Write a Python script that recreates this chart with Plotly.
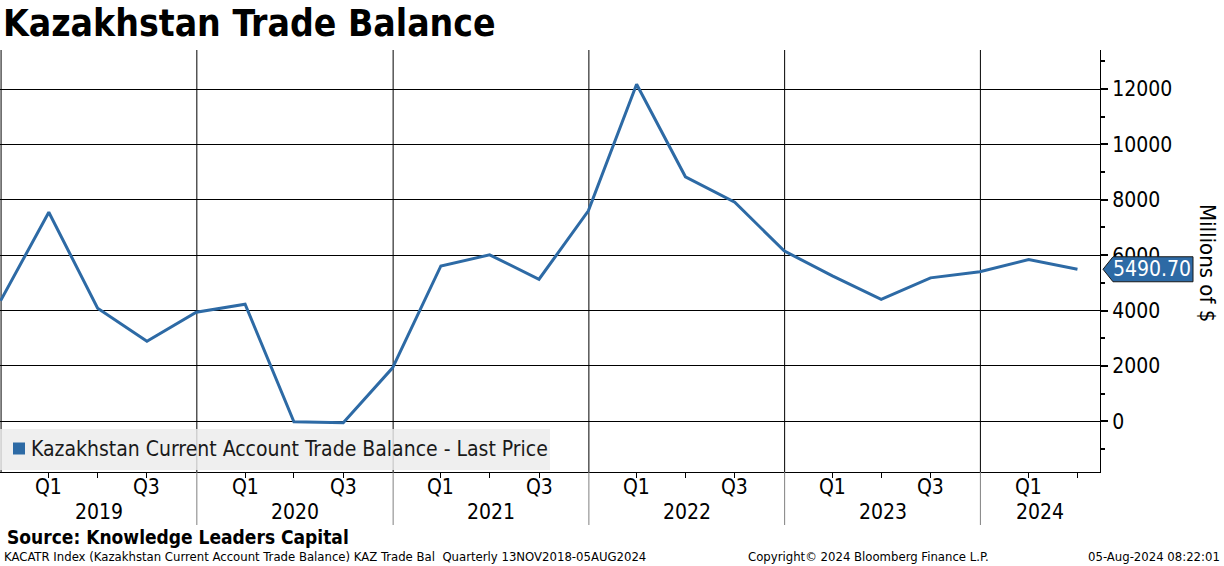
import plotly.graph_objects as go
import pandas as pd

# ---------------- data ----------------
quarters = ["2018Q4",
            "2019Q1", "2019Q2", "2019Q3", "2019Q4",
            "2020Q1", "2020Q2", "2020Q3", "2020Q4",
            "2021Q1", "2021Q2", "2021Q3", "2021Q4",
            "2022Q1", "2022Q2", "2022Q3", "2022Q4",
            "2023Q1", "2023Q2", "2023Q3", "2023Q4",
            "2024Q1", "2024Q2"]
values = [4350,
          7550, 4085, 2890, 3940,
          4230, -20, -50, 1930,
          5610, 6010, 5130, 7600,
          12170, 8830, 7915, 6155,
          5250, 4400, 5180, 5400,
          5840, 5490.70]
years = [2019, 2020, 2021, 2022, 2023, 2024]
quarter_labels = ["Q1", "Q3"]
y_ticks = [0, 2000, 4000, 6000, 8000, 10000, 12000]
y_tick_text = [str(v) for v in y_ticks]
series_name = "Kazakhstan Current Account Trade Balance - Last Price"
last_value_text = "5490.70"
title_text = "Kazakhstan Trade Balance"
y_title = "Millions of $"
source_text = "Source: Knowledge Leaders Capital"
footer_left = "KACATR Index (Kazakhstan Current Account Trade Balance) KAZ Trade Bal  Quarterly 13NOV2018-05AUG2024"
footer_mid = "Copyright\u00a9 2024 Bloomberg Finance L.P."
footer_right = "05-Aug-2024 08:22:01"

# ---------------- styling ----------------
FONT = "DejaVu Sans Condensed, DejaVu Sans, sans-serif"
BLUE = "#2d6aa5"
X_RANGE = ["2018-12-30", "2024-08-11"]
Y_RANGE = [-1831, 13409]
W, H = 1224, 566
ML, MR, MT, MB = 0, 124, 50, 94
PW, PH = W - ML - MR, H - MT - MB


def py(pix_y):
    """pixel y (from top of page) -> paper y"""
    return (H - MB - pix_y) / PH


def px(pix_x):
    return (pix_x - ML) / PW


dates = [pd.Period(q, freq="Q").end_time.normalize() for q in quarters]

fig = go.Figure()
fig.add_trace(go.Scatter(x=dates, y=values, mode="lines", name=series_name,
                         line=dict(color=BLUE, width=3),
                         showlegend=False, hoverinfo="x+y"))

# x ticks at quarter ends
tick_dates = []
for yv in years:
    for m, d in [(3, 31), (6, 30), (9, 30)]:
        t = pd.Timestamp(yv, m, d)
        if t <= pd.Timestamp(X_RANGE[1]):
            tick_dates.append(t)

shapes = []
# year separator lines
for yv in years:
    t = pd.Timestamp(yv, 1, 1)
    shapes.append(dict(type="line", xref="x", yref="paper", x0=t, x1=t, y0=0, y1=1,
                       line=dict(color="black", width=1), layer="below"))
    if yv > years[0]:
        shapes.append(dict(type="line", xref="x", yref="paper", x0=t, x1=t,
                           y0=py(525), y1=0, line=dict(color="#808080", width=1)))

# legend box (semi-transparent) + square key
shapes.append(dict(type="rect", xref="paper", yref="paper",
                   x0=px(0), x1=px(550), y0=py(470), y1=py(429),
                   fillcolor="rgba(236,236,236,0.82)", line=dict(width=0), layer="above"))
shapes.append(dict(type="rect", xref="paper", yref="paper",
                   x0=px(13), x1=px(25), y0=py(454.5), y1=py(442.5),
                   fillcolor=BLUE, line=dict(width=0), layer="above"))

# last value marker box
shapes.append(dict(type="path", xref="paper", yref="y",
                   xsizemode="pixel", ysizemode="pixel", xanchor=1, yanchor=values[-1],
                   path="M 3,0 L 13,12.5 L 93,12.5 L 93,-12.5 L 13,-12.5 Z",
                   fillcolor=BLUE, line=dict(color="#1a1a1a", width=1), layer="above"))

annotations = []
# quarter labels
for yv in years:
    for ql, m, d in [(quarter_labels[0], 3, 31), (quarter_labels[1], 9, 30)]:
        t = pd.Timestamp(yv, m, d)
        if t <= pd.Timestamp(X_RANGE[1]):
            annotations.append(dict(x=t, y=py(487), xref="x", yref="paper", text=ql,
                                    showarrow=False, xanchor="center", yanchor="middle",
                                    font=dict(size=21, color="black", family=FONT)))
# year labels
for yv in years:
    start = pd.Timestamp(yv, 1, 1)
    end = min(pd.Timestamp(yv + 1, 1, 1), pd.Timestamp(X_RANGE[1]))
    mid = start + (end - start) / 2
    annotations.append(dict(x=mid, y=py(512), xref="x", yref="paper", text=str(yv),
                            showarrow=False, xanchor="center", yanchor="middle",
                            font=dict(size=21, color="black", family=FONT)))

annotations += [
    dict(x=px(29), y=py(449), xref="paper", yref="paper", text=series_name,
         showarrow=False, xanchor="left", yanchor="middle",
         font=dict(size=21, color="#1a1a1a", family=FONT)),
    dict(x=px(1), y=py(23), xref="paper", yref="paper", text="<b>" + title_text + "</b>",
         showarrow=False, xanchor="left", yanchor="middle",
         font=dict(size=37, color="black", family=FONT)),
    dict(x=px(1208), y=py(263), xref="paper", yref="paper", text=y_title, textangle=90,
         showarrow=False, xanchor="center", yanchor="middle",
         font=dict(size=22, color="black", family=FONT)),
    dict(x=1, y=values[-1], xref="paper", yref="y", xshift=52, text=last_value_text,
         showarrow=False, xanchor="center", yanchor="middle",
         font=dict(size=21, color="white", family=FONT)),
    dict(x=px(5), y=py(537), xref="paper", yref="paper", text="<b>" + source_text + "</b>",
         showarrow=False, xanchor="left", yanchor="middle",
         font=dict(size=19, color="black", family=FONT)),
    dict(x=px(2), y=py(556), xref="paper", yref="paper", text=footer_left,
         showarrow=False, xanchor="left", yanchor="middle",
         font=dict(size=13, color="black", family=FONT)),
    dict(x=px(868), y=py(556), xref="paper", yref="paper", text=footer_mid,
         showarrow=False, xanchor="center", yanchor="middle",
         font=dict(size=13, color="black", family=FONT)),
    dict(x=px(1222), y=py(556), xref="paper", yref="paper", text=footer_right,
         showarrow=False, xanchor="right", yanchor="middle",
         font=dict(size=13, color="black", family=FONT)),
]

fig.update_layout(
    width=W, height=H,
    margin=dict(l=ML, r=MR, t=MT, b=MB, pad=0),
    paper_bgcolor="white", plot_bgcolor="white",
    font=dict(family=FONT, color="black"),
    showlegend=False,
    shapes=shapes, annotations=annotations,
    xaxis=dict(type="date", range=X_RANGE, showgrid=False, zeroline=False,
               showline=True, linecolor="black", linewidth=1,
               tickmode="array", tickvals=tick_dates, ticks="outside",
               ticklen=5, tickcolor="black", showticklabels=False, fixedrange=True),
    yaxis=dict(side="right", range=Y_RANGE, tickmode="array", tickvals=y_ticks,
               ticktext=y_tick_text,
               showgrid=True, gridcolor="black", gridwidth=1, zeroline=False,
               showline=True, linecolor="black", linewidth=1,
               ticks="outside", ticklen=7, tickwidth=2, tickcolor="black",
               tickfont=dict(size=21, color="black", family=FONT),
               minor=dict(dtick=1000, tick0=0, ticks="outside", ticklen=4,
                          tickcolor="black", showgrid=False),
               fixedrange=True),
)

fig.write_html("out.html", config={"displayModeBar": False},
               post_script="document.body.style.margin='0px';")
